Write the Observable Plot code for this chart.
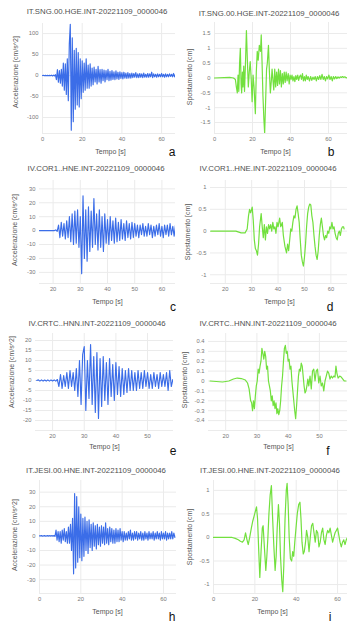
<!DOCTYPE html>
<html><head><meta charset="utf-8">
<script src="https://cdn.jsdelivr.net/npm/d3@7"></script>
<script src="https://cdn.jsdelivr.net/npm/@observablehq/plot@0.6"></script>
<style>
body{margin:0;background:#fff;}
#root{position:relative;width:351px;height:623px;overflow:hidden;background:#fff;}
#root svg{position:absolute;}
</style></head><body><div id="root"></div>
<script>
// ---- Titles / labels ----
const titles = ["IT.SNG.00.HGE.INT-20221109_0000046","IV.COR1..HNE.INT-20221109_0000046","IV.CRTC..HNN.INT-20221109_0000046","IT.JESI.00.HNE.INT-20221109_0000046"];
const accLabel = "Accelerazione [cm/s^2]";
const dispLabel = "Spostamento [cm]";
const timeLabel = "Tempo [s]";
const letters = ["a","b","c","d","e","f","h","i"];

// ---- Tick values ----
const xTicksA = [0,20,40,60];
const yTicksA = [-100,-50,0,50,100];
const xTicksB = [0,20,40,60];
const yTicksB = [-1.5,-1,-0.5,0,0.5,1,1.5];
const xTicksC = [20,30,40,50,60];
const yTicksC = [-30,-20,-10,0,10,20,30];
const xTicksD = [20,30,40,50,60];
const yTicksD = [-1,-0.5,0,0.5,1];
const xTicksE = [20,30,40,50];
const yTicksE = [-20,-15,-10,-5,0,5,10,15,20];
const xTicksF = [20,30,40,50];
const yTicksF = [-0.4,-0.3,-0.2,-0.1,0,0.1,0.2,0.3,0.4];
const xTicksH = [0,20,40,60];
const yTicksH = [-30,-20,-10,0,10,20,30];
const xTicksI = [0,20,40,60];
const yTicksI = [-1,-0.5,0,0.5,1];

// ---- Acceleration series (sampled, start time / step) ----
const accA_t0 = 0, accA_dt = 0.5;
const accA = [0,0.5,-0.5,0.5,-0.5,0.5,-0.5,0.5,-0.5,1,-1,1,-1,2,
 -10,14,-16,12,-18,15, -25,30,-35,28,-45,40, -60,75, 122,-130, 90,-110,
 60,-80,65,-70,55,-75,40,-55,35,-40,30,-35,40,-30,25,-30,28,-25,18,-22,20,-15,15,-20,22,-15,14,-18,
 15,-12,13,-15,12,-10,15,-12,10,-11,12,-9,9,-10,11,-8,8,-9,9,-7,7,-8,8,-6,6,-7,7,-6,5,-6,6,-5,5,-4,
 7,-5,4,-5,5,-4,4,-5,6,-4,3,-4,5,-4,4,-3,8,-5,4,-3,3,-4,4,-3,3,-3,5,-3,3,-4,4,-3,3,-3,4,-2,3,-3,5,-3,3,-2,2,-3,3,-2,2,-2,1,0];

const accC_t0 = 15, accC_dt = 0.5;
const accC = [0,0,0,0,0,0,0,0,0,0,0,0,0.5,-0.5,
 4,-5,6,-4,5,-6,7,-5, 10,-8,12,-10,14,-9, 15,-12, 10,-31, 25,-20,
 15,-22,17,-15,14,-12,23,-10,12,-14,15,-12,10,-15,12,-9,8,-10,10,-7,7,-9,9,-8,6,-7,8,-6,5,-7,7,-5,5,-6,6,-5,5,-4,4,-5,
 4,-3,5,-4,3,-4,5,-3,4,-5,3,-4,4,-3,5,-4,3,-5,4,-3,4,-4,5,-3,3,-4,4];

const accE_t0 = 15, accE_dt = 0.5;
const accE = [0,0.3,-0.3,0.3,-0.3,0.2,-0.3,0.3,-0.3,0.3,-0.2,0.3,-0.3,0.5,
 -3,3,-4,2.5,-3,4, -4,5,-3,4,-5,6,
 -8,10,-12,13,17,-15,10,-9,18,-12,12,-16,14,-19,11,-13,12,-10,9,-12,11,-8,8,-10,9,-7,7,-8,6,-7,5,-6,6,-5,5,-5,
 4,-5,5,-4,4,-4,5,-3,4,-4,3,-4,4,-3,3,-4,4,-3,3,-3,4,-5,5,-3,0.5,0];

const accH_t0 = 0, accH_dt = 0.5;
const accH = [0,0,0.2,-0.2,0,0.2,-0.2,0,0.2,-0.2,0.2,-0.2,0.2,-0.2,0.3,-0.3,
 4,-3,3,-4, 3,-5,4,-3, 5,-4,3,-5, 6,-5, 8,-10, 12,-26, 29,-22, 27,-18, 20,-15, 15,-17, 12,-14, 13,-10, 10,-12, 11,-8,
 8,-10,9,-7,7,-9,8,-6,6,-7,7,-5,6,-6,9,-5,5,-6,6,-4,5,-5,4,-5,5,-4,4,-4,5,-3,3,-4,
 3,-3,2,-3,3,-2,4,-3,2,-3,3,-2,3,-3,2,-2,3,-3,2,-3,3,-2,2,-3,3,-2,2,-2,3,-3,2,-2,3,-2,2,-3,3,-2,2,-2,3,-3,2,-2,2,-2,3,-2,2,-1];

// ---- Displacement series [time, value] ----
const dispB = [[0,0],[5,0.01],[8,0.02],[10,0],[11,-0.05],[11.5,-0.3],[12,-0.5],[12.4,0.1],[12.8,-0.45],[13.2,0.5],[13.6,1.0],[14,-0.2],[14.3,-0.5],[14.7,0.2],[15,-0.3],[15.4,0.4],[15.8,-0.45],[16.3,0.5],[16.8,1.6],[17.3,0.6],[17.8,-0.3],[18.3,0.2],[18.8,0.55],[19.3,0.0],[19.8,-0.8],[20.3,0.1],[20.8,-0.3],[21.5,-1.2],[22,0.2],[22.5,0.9],[23,0.6],[23.6,1.1],[24.2,0.9],[24.6,1.45],[25,0.6],[25.5,-0.6],[26,-1.4],[26.4,-1.85],[26.9,-0.8],[27.4,0.3],[27.8,0.5],[28.4,1.1],[28.9,0.2],[29.4,-0.5],[29.9,-0.1],[30.3,0.3],[30.8,-0.1],[31.2,-0.4],[31.7,0.3],[32.2,-0.3],[32.7,0.2],[33.2,-0.25],[33.7,0.3],[34.2,-0.2],[34.7,0.25],[35.2,-0.3],[35.7,0.15],[36.2,-0.2],[36.7,0.2],[37.2,-0.15],[37.7,0.2],[38.2,-0.1],[38.8,0.15],[39.3,-0.2],[39.8,0.1],[40.3,-0.05],[40.8,0.1],[41.3,-0.1],[41.8,0.05],[42.3,-0.12],[42.8,0.08],[43.3,-0.05],[43.8,0.1],[44.3,-0.08],[44.8,0.05],[45.3,0.1],[45.8,-0.05],[46.3,0.15],[46.8,-0.1],[47.3,0.05],[47.8,-0.1],[48.3,0.1],[48.8,-0.05],[49.3,0.05],[50,-0.1],[50.6,0.05],[51.2,-0.08],[51.8,0.03],[52.4,-0.05],[53,0.05],[53.6,-0.1],[54.2,0.05],[54.8,-0.05],[55.4,0.08],[56,-0.05],[56.6,0.12],[57.2,-0.05],[57.8,0.05],[58.4,-0.1],[59,0.05],[59.6,-0.03],[60.2,0.1],[60.8,-0.05],[61.4,0.05],[62,-0.1],[62.6,0.05],[63.2,-0.03],[63.8,0.05],[64.4,-0.02],[65,0.04],[65.6,0],[66.2,0.04],[66.8,0.02],[67.4,0.05],[68,0.02],[68.6,0.04],[69.2,0.01],[70,0]];

const dispD = [[14.5,0],[20,0],[24,0],[26,-0.04],[27.5,-0.04],[28.3,0.05],[28.8,0.35],[29.2,0.5],[29.6,0.42],[30.2,0.55],[30.6,0.25],[31,-0.2],[31.4,-0.4],[31.8,-0.45],[32.2,-0.55],[32.6,-0.3],[33,0.1],[33.6,0.4],[34,0.1],[34.4,-0.15],[34.8,0.15],[35.2,-0.2],[35.6,0.1],[36,-0.05],[36.4,0.15],[36.8,0.05],[37.2,0.15],[37.6,0],[38,0.2],[38.4,0.05],[38.8,0.1],[39.2,-0.05],[39.6,0.2],[40,0.1],[40.6,0.3],[41,0.1],[41.6,0.2],[42,-0.1],[42.6,-0.35],[43.2,-0.5],[43.6,-0.3],[44,-0.45],[44.4,-0.2],[44.8,0.05],[45.2,0],[45.6,0.2],[46,0.35],[46.4,0.3],[46.8,0.5],[47.2,0.58],[47.6,0.4],[48,0.2],[48.4,-0.2],[48.8,-0.55],[49.2,-0.7],[49.6,-0.8],[50,-0.6],[50.4,-0.3],[50.8,0.1],[51.2,0.4],[51.6,0.55],[52,0.62],[52.4,0.6],[52.8,0.35],[53.2,0.2],[53.6,-0.1],[54,-0.35],[54.4,-0.55],[54.8,-0.65],[55.2,-0.45],[55.6,-0.1],[56,0.15],[56.4,0.3],[56.8,0.1],[57.2,-0.1],[57.6,-0.2],[58,-0.1],[58.4,-0.15],[58.8,0],[59.2,-0.05],[59.6,0.1],[60,0.05],[60.4,0.2],[60.8,0.05],[61.2,0.1],[61.6,-0.05],[62,-0.15],[62.4,-0.2],[62.8,-0.05],[63.2,0],[63.6,-0.1],[64,0.05],[64.4,0.1],[64.8,0.1],[65,0.05]];

const dispF = [[15,0],[17,-0.005],[19,-0.01],[21,0],[22.5,0.02],[23.7,0.03],[25,0.025],[26.3,0.01],[27,-0.02],[27.5,-0.08],[28,-0.2],[28.3,-0.22],[28.6,-0.3],[28.9,-0.2],[29.2,-0.28],[29.5,-0.15],[29.8,-0.05],[30.1,0],[30.4,0.12],[30.7,0.08],[31,0.15],[31.3,0.2],[31.6,0.33],[31.9,0.28],[32.2,0.22],[32.5,0.3],[32.8,0.25],[33.1,0.12],[33.4,0.15],[33.7,0],[34,-0.05],[34.3,-0.1],[34.6,-0.2],[34.9,-0.15],[35.2,-0.25],[35.5,-0.2],[35.8,-0.28],[36.1,-0.22],[36.4,-0.33],[36.7,-0.28],[37,-0.34],[37.3,-0.3],[37.6,-0.2],[37.9,-0.05],[38.2,0.05],[38.5,0.2],[38.8,0.33],[39.1,0.36],[39.4,0.28],[39.7,0.3],[40,0.2],[40.3,0.22],[40.6,0.12],[40.9,0.15],[41.2,0],[41.5,-0.1],[41.8,-0.2],[42.1,-0.3],[42.4,-0.38],[42.7,-0.25],[43,-0.1],[43.3,0.05],[43.6,0.12],[43.9,0.1],[44.2,0.18],[44.5,0.15],[44.8,0.05],[45.1,-0.05],[45.4,-0.12],[45.7,-0.1],[46,-0.05],[46.3,0.02],[46.6,-0.05],[47,0.05],[47.4,-0.08],[47.8,0.1],[48.2,0.12],[48.6,0],[49,0.1],[49.4,0.12],[49.8,-0.02],[50.2,0.05],[50.6,-0.05],[51,-0.02],[51.4,-0.1],[51.8,0],[52.2,0.05],[52.6,0.1],[53,0.08],[53.4,0.02],[53.8,0.05],[54.2,0.03],[54.6,0.05],[55,0.04],[55.3,0.15],[55.6,0.08],[56,0.03],[56.5,0.05],[57,0.04],[57.5,0.02],[58,0],[58.5,0]];

const dispI = [[0,0],[5,0],[9,0],[10.5,-0.02],[12,-0.05],[13,-0.08],[14,-0.1],[14.8,-0.05],[15.5,0.1],[16.2,-0.05],[16.8,-0.15],[17.5,0],[18.3,0.2],[19,0.35],[19.6,0.45],[20.2,0.55],[20.8,0.65],[21.3,0.4],[21.8,-0.2],[22.4,-0.85],[23,-0.3],[23.6,0.2],[24,0.25],[24.6,-0.2],[25.3,-0.7],[25.8,-0.4],[26.3,0],[26.8,0.5],[27.4,0.9],[28,1.1],[28.6,0.4],[29.2,-0.2],[29.8,-0.7],[30.3,-0.4],[30.8,0.2],[31.4,0.7],[31.9,0.3],[32.4,-0.4],[33,-0.9],[33.5,-1.15],[34,-0.6],[34.6,0.4],[35.2,1.0],[35.6,1.15],[36.1,0.7],[36.6,0],[37.2,-0.45],[37.8,-0.5],[38.3,-0.3],[38.8,-0.4],[39.3,-0.1],[39.9,0.2],[40.5,0.5],[41.2,0.7],[41.8,0.75],[42.3,0.4],[42.8,-0.1],[43.4,-0.35],[43.9,-0.3],[44.5,-0.1],[45,0.15],[45.6,0],[46.2,-0.3],[46.8,0],[47.4,0.25],[48,0.3],[48.6,0.1],[49.2,-0.1],[49.8,0.15],[50.4,0.1],[51,-0.2],[51.6,-0.1],[52.2,0.1],[52.8,0.2],[53.4,-0.05],[54,-0.15],[54.6,0.05],[55.2,0.15],[55.8,0.1],[56.4,0.2],[57,0.05],[57.6,-0.1],[58.2,0],[58.8,0.1],[59.4,0.15],[60,0.2],[60.6,0.05],[61.2,-0.1],[61.8,-0.2],[62.4,-0.1],[63,-0.05],[63.6,-0.15],[64.2,-0.05],[64.8,0]];

// ---- Build ----
const BLUE = "#3b6de8", GREEN = "#72e03e", GRID = "#ebebeb";
const FONT = "'Liberation Sans', Arial, sans-serif";
const fromSamples = (arr, t0, dt) => arr.map((v, i) => ({t: t0 + i * dt, v}));
const fromPairs = arr => arr.map(([t, v]) => ({t, v}));
const fmt = d => String(d);

const panels = [
  {L:0,T:0,W:178,H:155,ml:42,mr:3,mt:23,mb:22,xd:[0,67],yd:[-138,124],xt:xTicksA,yt:yTicksA,data:fromSamples(accA,accA_t0,accA_dt),color:BLUE,sw:1.15,
   title:titles[0],tx:97,ty:11,ylab:accLabel,ylx:16,yly:72,xlx:110,xly:151,letter:letters[0],lx:172,ly:152},
  {L:178,T:0,W:173,H:155,ml:36,mr:4,mt:22,mb:22,xd:[0,70],yd:[-1.87,1.87],xt:xTicksB,yt:yTicksB,data:fromPairs(dispB),color:GREEN,sw:1.2,
   title:titles[0],tx:269,ty:13,ylab:dispLabel,ylx:190,yly:77,xlx:275,xly:151,letter:letters[1],lx:331,ly:152},
  {L:0,T:155,W:178,H:155,ml:39,mr:3,mt:25,mb:27,xd:[15,65],yd:[-38,36],xt:xTicksC,yt:yTicksC,data:fromSamples(accC,accC_t0,accC_dt),color:BLUE,sw:1.15,
   title:titles[1],tx:96,ty:168,ylab:accLabel,ylx:15,yly:230,xlx:107,xly:301,letter:letters[2],lx:173,ly:307},
  {L:178,T:155,W:173,H:155,ml:32,mr:4,mt:25,mb:27,xd:[14.4,66.3],yd:[-1.2,1.16],xt:xTicksD,yt:yTicksD,data:fromPairs(dispD),color:GREEN,sw:1.2,
   title:titles[1],tx:268,ty:168,ylab:dispLabel,ylx:188,yly:232,xlx:279,xly:301,letter:letters[3],lx:330,ly:307},
  {L:0,T:310,W:178,H:155,ml:35,mr:5,mt:23,mb:35,xd:[14.6,58.2],yd:[-25,23.5],xt:xTicksE,yt:yTicksE,data:fromSamples(accE,accE_t0,accE_dt),color:BLUE,sw:1.15,
   title:titles[2],tx:97,ty:323,ylab:accLabel,ylx:12,yly:372,xlx:104,xly:446,letter:letters[4],lx:173,ly:451},
  {L:178,T:310,W:173,H:155,ml:30,mr:4,mt:23,mb:35,xd:[14.5,59],yd:[-0.5,0.48],xt:xTicksF,yt:yTicksF,data:fromPairs(dispF),color:GREEN,sw:1.2,
   title:titles[2],tx:268,ty:323,ylab:dispLabel,ylx:185,yly:380,xlx:278,xly:446,letter:letters[5],lx:328,ly:451},
  {L:0,T:465,W:178,H:158,ml:39,mr:2,mt:15,mb:30,xd:[0,66.3],yd:[-39.5,38],xt:xTicksH,yt:yTicksH,data:fromSamples(accH,accH_t0,accH_dt),color:BLUE,sw:1.15,
   title:titles[3],tx:96,ty:470,ylab:accLabel,ylx:15,yly:535,xlx:107,xly:611,letter:letters[6],lx:172,ly:617},
  {L:178,T:465,W:173,H:158,ml:35,mr:4,mt:15,mb:30,xd:[0,64.8],yd:[-1.19,1.21],xt:xTicksI,yt:yTicksI,data:fromPairs(dispI),color:GREEN,sw:1.2,
   title:titles[3],tx:270,ty:470,ylab:dispLabel,ylx:190,yly:537,xlx:272,xly:611,letter:letters[7],lx:330,ly:617}
];

const root = document.getElementById("root");

for (const p of panels) {
  const frameBottom = p.T + p.H - p.mb;
  const frameCenter = p.L + (p.ml + p.W - p.mr) / 2;
  const svg = Plot.plot({
    width: p.W, height: p.H,
    marginLeft: p.ml, marginRight: p.mr, marginTop: p.mt, marginBottom: p.mb,
    style: {fontFamily: FONT, fontSize: "5.8px", color: "#777", background: "transparent", overflow: "visible"},
    x: {domain: p.xd, label: null},
    y: {domain: p.yd, label: null},
    marks: [
      Plot.gridX(p.xt, {stroke: GRID, strokeOpacity: 1}),
      Plot.gridY(p.yt, {stroke: GRID, strokeOpacity: 1}),
      Plot.ruleY([p.yd[0]], {stroke: GRID}),
      Plot.axisX(p.xt, {tickSize: 0, tickPadding: 3, tickFormat: fmt, label: null}),
      Plot.axisY(p.yt, {tickSize: 0, tickPadding: 4, tickFormat: fmt, label: null}),
      Plot.line(p.data, {x: "t", y: "v", stroke: p.color, strokeWidth: p.sw, clip: true}),
      Plot.text([timeLabel], {frameAnchor: "bottom", dx: p.xlx - frameCenter, dy: p.xly - frameBottom,
        text: d => d, fontSize: 7, fill: "#555", lineAnchor: "middle"})
    ]
  });
  svg.style.left = p.L + "px";
  svg.style.top = p.T + "px";
  root.appendChild(svg);
}

// ---- Text overlay (titles, y labels, panel letters) ----
const overlay = d3.create("svg")
  .attr("width", 351).attr("height", 623)
  .style("left", "0px").style("top", "0px")
  .style("font-family", FONT)
  .style("pointer-events", "none");
for (const p of panels) {
  overlay.append("text").attr("x", p.tx).attr("y", p.ty).attr("text-anchor", "middle").attr("dy", "0.35em")
    .attr("font-size", 7.8).attr("fill", "#505050").text(p.title);
  overlay.append("text").attr("transform", `translate(${p.ylx},${p.yly}) rotate(-90)`).attr("text-anchor", "middle").attr("dy", "0.35em")
    .attr("font-size", 7).attr("fill", "#555").text(p.ylab);
  overlay.append("text").attr("x", p.lx).attr("y", p.ly).attr("text-anchor", "middle").attr("dy", "0.35em")
    .attr("font-size", 12).attr("fill", "#111").text(p.letter);
}
root.appendChild(overlay.node());
</script></body></html>
